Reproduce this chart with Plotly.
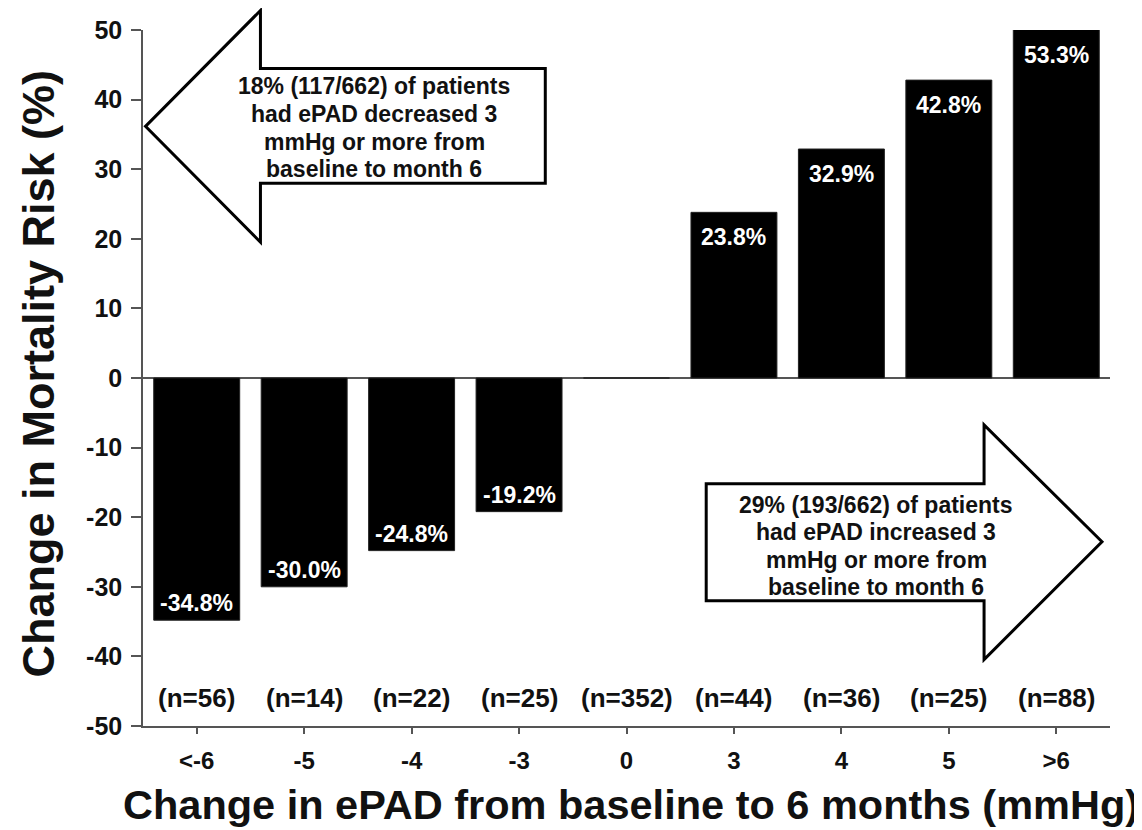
import plotly.graph_objects as go

# ---- data ----
categories = ["<-6", "-5", "-4", "-3", "0", "3", "4", "5", ">6"]
risk_change = [-34.8, -30.0, -24.8, -19.2, 0.0, 23.8, 32.9, 42.8, 53.3]
bar_labels = ["-34.8%", "-30.0%", "-24.8%", "-19.2%", "", "23.8%", "32.9%", "42.8%", "53.3%"]
n_labels = ["(n=56)", "(n=14)", "(n=22)", "(n=25)", "(n=352)", "(n=44)", "(n=36)", "(n=25)", "(n=88)"]
y_ticks = [-50, -40, -30, -20, -10, 0, 10, 20, 30, 40, 50]
left_note = ["18% (117/662) of patients", "had ePAD decreased 3", "mmHg or more from", "baseline to month 6"]
right_note = ["29% (193/662) of patients", "had ePAD increased 3", "mmHg or more from", "baseline to month 6"]

FONT = "Liberation Sans"
AX = "#555555"
TXT = "#111111"

# page offset (body margin) and target geometry in page pixels
OFF = 8
PAGE_W, PAGE_H = 1142, 830
W, H = PAGE_W - OFF, PAGE_H - OFF
PL, PR, PT, PB = 142.5, 1110, 29.5, 726.5   # plot area in page pixels
ML, MR, MT, MB = PL - OFF, W - (PR - OFF), PT - OFF, H - (PB - OFF)
PW, PH = PR - PL, PB - PT


def px(x):
    return (x - PL) / PW


def py(y):
    return (PB - y) / PH


xpos = list(range(len(categories)))

fig = go.Figure()
fig.add_trace(go.Bar(
    x=xpos, y=risk_change,
    marker=dict(color="black", line=dict(color="#222222", width=1)),
    width=0.8, hoverinfo="skip", showlegend=False,
))

annotations = []
for i, (v, t) in enumerate(zip(risk_change, bar_labels)):
    if not t:
        continue
    yv = max(min(v, y_ticks[-1]), y_ticks[0])
    annotations.append(dict(
        x=i, y=yv, xref="x", yref="y", text=t, showarrow=False,
        yanchor="middle", xanchor="center", yshift=-25 if v > 0 else 17,
        font=dict(family=FONT, size=23, color="white", weight="bold"),
    ))
for i, t in enumerate(n_labels):
    annotations.append(dict(
        x=i, y=0, xref="x", yref="paper", text=t, showarrow=False,
        yanchor="middle", xanchor="center", yshift=28,
        font=dict(family=FONT, size=26, color=TXT, weight="bold"),
    ))

LINE_GAP = 27.6
for lines, cx, cy0 in ((left_note, 374, 86), (right_note, 876, 505)):
    for k, line in enumerate(lines):
        annotations.append(dict(
            x=px(cx), y=py(cy0 + k * LINE_GAP), xref="paper", yref="paper",
            text=line, showarrow=False, xanchor="center", yanchor="middle",
            font=dict(family=FONT, size=23, color=TXT, weight="bold"),
        ))

annotations.append(dict(
    x=px(631), y=py(805), xref="paper", yref="paper",
    text="Change in ePAD from baseline to 6 months (mmHg)", showarrow=False,
    xanchor="center", yanchor="middle",
    font=dict(family=FONT, size=41.5, color=TXT, weight="bold"),
))
annotations.append(dict(
    x=px(37), y=py(374), xref="paper", yref="paper",
    text="Change in Mortality Risk (%)", showarrow=False, textangle=-90,
    xanchor="center", yanchor="middle",
    font=dict(family=FONT, size=45, color=TXT, weight="bold"),
))


def poly(points):
    return "M " + " L ".join(f"{px(a):.5f},{py(b):.5f}" for a, b in points) + " Z"


left_arrow = [(145, 126), (260, 10), (260, 68), (545, 68), (545, 183), (260, 183), (260, 242)]
right_arrow = [(1102, 542), (984, 425), (984, 484), (706, 484), (706, 601), (984, 601), (984, 660)]
shapes = [
    dict(type="path", xref="paper", yref="paper", path=poly(left_arrow),
         fillcolor="white", line=dict(color="black", width=3), layer="above"),
    dict(type="path", xref="paper", yref="paper", path=poly(right_arrow),
         fillcolor="white", line=dict(color="black", width=3), layer="above"),
]

fig.update_layout(
    width=W, height=H,
    margin=dict(l=ML, r=MR, t=MT, b=MB, pad=0, autoexpand=False),
    paper_bgcolor="white", plot_bgcolor="white",
    bargap=0.2,
    annotations=annotations,
    shapes=shapes,
    xaxis=dict(
        range=[-0.5, len(categories) - 0.5], tickvals=xpos, ticktext=categories,
        showline=True, linecolor=AX, linewidth=1.5, ticks="outside", ticklen=6,
        tickcolor=AX, tickwidth=1.5, showgrid=False, zeroline=False,
        tickfont=dict(family=FONT, size=24, color=TXT, weight="bold"),
        ticklabelstandoff=6, fixedrange=True, automargin=False,
    ),
    yaxis=dict(
        range=[y_ticks[0], y_ticks[-1]], tickvals=y_ticks,
        ticktext=[str(v) for v in y_ticks],
        showline=True, linecolor=AX, linewidth=1.5, ticks="outside", ticklen=10,
        tickcolor=AX, tickwidth=1.5, showgrid=False,
        zeroline=True, zerolinecolor=AX, zerolinewidth=1.5,
        tickfont=dict(family=FONT, size=25, color=TXT, weight="bold"),
        ticklabelstandoff=4, fixedrange=True, automargin=False,
    ),
)

fig.write_html("out.html")
